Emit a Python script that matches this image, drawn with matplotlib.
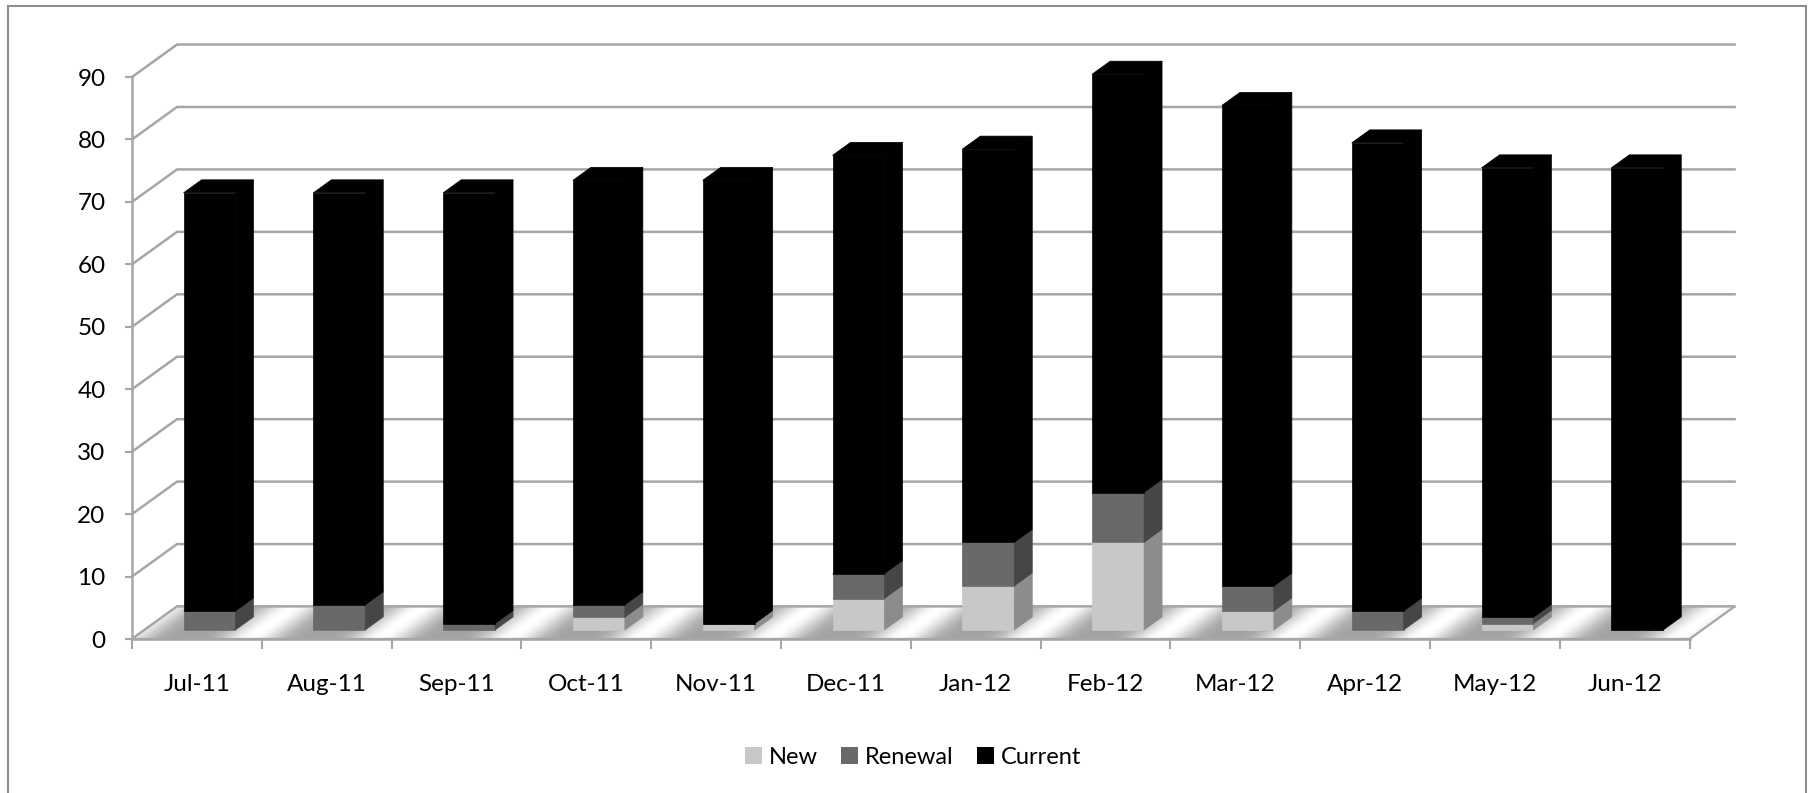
import numpy as np
import matplotlib.pyplot as plt
from matplotlib.patches import Polygon, Rectangle, Patch

months = ['Jul-11', 'Aug-11', 'Sep-11', 'Oct-11', 'Nov-11', 'Dec-11',
          'Jan-12', 'Feb-12', 'Mar-12', 'Apr-12', 'May-12', 'Jun-12']
new_vals = [0, 0, 0, 2, 1, 5, 7, 14, 3, 0, 1, 0]
renewal_vals = [3, 4, 1, 2, 0, 4, 7, 8, 4, 3, 1, 0]
current_vals = [67, 66, 69, 68, 71, 67, 63, 67, 77, 75, 72, 74]
y_ticks = list(range(0, 100, 10))

plt.rcParams['font.family'] = ['Lato', 'DejaVu Sans']

W, H = 1810, 793
fig = plt.figure(figsize=(W / 100, H / 100), dpi=100)

# front plane of the 3d box: 12 categories, 0..90
n = len(months)
ax = fig.add_axes([132 / W, (H - 639) / H, n * 129.8 / W, 90 * 6.244 / H])

DX, DY = 45 / 129.8, 32.5 / 6.244     # depth offset in data units
D0, D1 = 0.28, 0.68                   # bar depth range
grid_c = '#a6a6a6'

# walls: gridlines on side wall + back wall
for v in y_ticks:
    ax.plot([0, DX, n + DX], [v, v + DY, v + DY], color=grid_c, lw=1.8,
            clip_on=False, zorder=1, solid_joinstyle='miter')

# floor, shaded with soft diagonal streaks
floor = Polygon([(0, 0), (n, 0), (n + DX, DY), (DX, DY)], closed=True,
                facecolor='none', edgecolor=grid_c, lw=1.6, zorder=2, clip_on=False)
ax.add_patch(floor)
gx = np.linspace(0, n + DX, 1200)
gy = np.linspace(0, DY, 60)
GX, GY = np.meshgrid(gx, gy)
U = GX - GY / DY * DX
shade = 0.64 + 0.36 * np.cos(np.pi * (U + 0.1)) ** 4
im = ax.imshow(shade, extent=[0, n + DX, 0, DY], origin='lower', aspect='auto',
               cmap='gray', vmin=0, vmax=1, zorder=1.5, interpolation='bilinear')
im.set_clip_on(True)
im.set_clip_path(floor)
im.set_clip_box(fig.bbox)

# stacked 3d bars
series = [
    (new_vals, '#c8c8c8', '#8c8c8c', '#dedede'),
    (renewal_vals, '#696969', '#464646', '#808080'),
    (current_vals, '#000000', '#000000', '#000000'),
]
base = np.zeros(n)
x_left = np.arange(n) + 0.3
bw = 0.4
for vals, c_front, c_side, c_top in series:
    vals = np.asarray(vals, dtype=float)
    ax.bar(x_left + D0 * DX, vals, width=bw, bottom=base + D0 * DY, align='edge',
           color=c_front, edgecolor=c_front, linewidth=0.5, zorder=3, clip_on=False)
    for i in range(n):
        if vals[i] <= 0:
            continue
        y0, y1 = base[i], base[i] + vals[i]
        xr = x_left[i] + bw
        xl = x_left[i]
        side = [(xr + D0 * DX, y0 + D0 * DY), (xr + D1 * DX, y0 + D1 * DY),
                (xr + D1 * DX, y1 + D1 * DY), (xr + D0 * DX, y1 + D0 * DY)]
        top = [(xl + D0 * DX, y1 + D0 * DY), (xr + D0 * DX, y1 + D0 * DY),
               (xr + D1 * DX, y1 + D1 * DY), (xl + D1 * DX, y1 + D1 * DY)]
        ax.add_patch(Polygon(side, closed=True, facecolor=c_side, edgecolor=c_side,
                             lw=0.5, zorder=3, clip_on=False))
        ax.add_patch(Polygon(top, closed=True, facecolor=c_top, edgecolor=c_top,
                             lw=0.5, zorder=3, clip_on=False))
    base = base + vals

ax.set_xlim(0, n)
ax.set_ylim(0, 90)
ax.patch.set_visible(False)
for s in ['top', 'right']:
    ax.spines[s].set_visible(False)
for s in ['left', 'bottom']:
    ax.spines[s].set_color(grid_c)
    ax.spines[s].set_linewidth(1.8)
    ax.spines[s].set_zorder(2.5)
ax.spines['left'].set_bounds(0, 90)
ax.spines['bottom'].set_bounds(0, n)

ax.set_yticks(y_ticks)
ax.tick_params(axis='y', length=5, width=1.5, color=grid_c, pad=14, labelsize=17.5)
ax.set_xticks(range(n + 1))
ax.set_xticklabels([])
ax.set_xticks(np.arange(n) + 0.5, minor=True)
ax.set_xticklabels(months, minor=True)
ax.tick_params(axis='x', which='major', length=7, width=1.5, color=grid_c)
ax.tick_params(axis='x', which='minor', length=0, pad=25, labelsize=17.5)

handles = [Patch(facecolor='#c8c8c8', label='New'),
           Patch(facecolor='#696969', label='Renewal'),
           Patch(facecolor='#000000', label='Current')]
fig.legend(handles=handles, loc='center', bbox_to_anchor=(913 / W, (H - 757) / H),
           ncol=3, frameon=False, fontsize=17, handlelength=0.7, handleheight=0.7,
           handletextpad=0.3, columnspacing=1.0)

# chart area border (open at the bottom)
fig.add_artist(Rectangle((8 / W, -0.05), (1806 - 8) / W, 1.05 - 6 / H,
                         transform=fig.transFigure, fill=False,
                         edgecolor='#8c8c8c', lw=1.5))

fig.savefig('out.png', dpi=100)
